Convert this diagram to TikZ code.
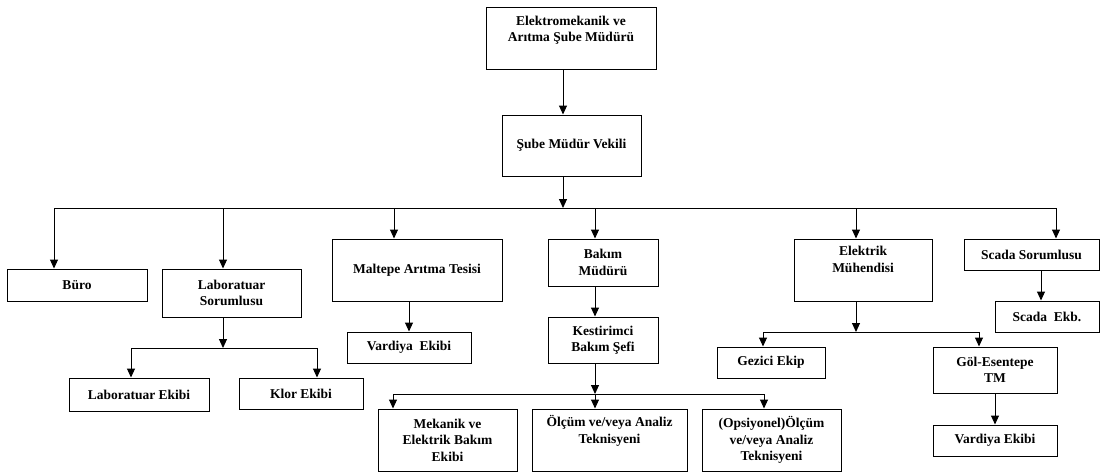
\documentclass[tikz,border=0pt]{standalone}
\usepackage{fontspec}
\setmainfont{Liberation Serif}
\usetikzlibrary{arrows.meta}

\begin{document}
\begin{tikzpicture}[x=1pt, y=-1pt,
        caja/.style={draw, line width=1pt, inner sep=2pt, align=center,
            font=\fontsize{13.5}{16.5}\selectfont\bfseries},
        flecha/.style={line width=1pt, -{Triangle[length=9pt, width=8pt]}},
        linea/.style={line width=1pt}]
    \useasboundingbox (0,0) rectangle (1100,472);

    % Cajas superiores
    \node[caja, minimum width=170pt, minimum height=62pt] (mudur) at (571,38)
        {Elektromekanik ve\\Arıtma Şube Müdürü\\[-3pt]\strut};
    \node[caja, minimum width=139pt, minimum height=61pt] (vekil) at (571.5,145.5)
        {Şube Müdür Vekili};

    % Primer nivel
    \node[caja, minimum width=140pt, minimum height=32pt] (buro) at (77,285) {Büro};
    \node[caja, minimum width=139pt, minimum height=48pt] (labsor) at (231.5,293)
        {Laboratuar\\Sorumlusu};
    \node[caja, minimum width=170pt, minimum height=62pt] (maltepe) at (417,270)
        {Maltepe Arıtma Tesisi};
    \node[caja, minimum width=110pt, minimum height=47pt] (bakim) at (603,262.5)
        {Bakım\\Müdürü};
    \node[caja, minimum width=138pt, minimum height=62pt] (elektrik) at (863,270)
        {Elektrik\\Mühendisi\\\strut};
    \node[caja, minimum width=135pt, minimum height=31pt] (scadasor) at (1031.5,254.5)
        {Scada Sorumlusu};

    % Segundo nivel
    \node[caja, minimum width=140pt, minimum height=33pt] (labekibi) at (139,394.5)
        {Laboratuar Ekibi};
    \node[caja, minimum width=124pt, minimum height=31pt] (klor) at (301,393.5)
        {Klor Ekibi};
    \node[caja, minimum width=124pt, minimum height=31pt] (vardiya) at (409,347.5)
        {Vardiya\ \ Ekibi};
    \node[caja, minimum width=110pt, minimum height=46pt] (kestirim) at (603,340)
        {Kestirimci\\Bakım Şefi};
    \node[caja, minimum width=108pt, minimum height=31pt] (gezici) at (771,362.5)
        {Gezici Ekip};
    \node[caja, minimum width=124pt, minimum height=46pt] (gol) at (995,370)
        {Göl-Esentepe\\TM};
    \node[caja, minimum width=104pt, minimum height=31pt] (scadaekb) at (1047,316.5)
        {Scada\ \ Ekb.};

    % Tercer nivel
    \node[caja, minimum width=139pt, minimum height=62pt] (mekanik) at (447.5,440)
        {Mekanik ve\\Elektrik Bakım\\Ekibi};
    \node[caja, minimum width=155pt, minimum height=62pt] (olcum) at (609.5,440)
        {Ölçüm ve/veya Analiz\\Teknisyeni\\\strut};
    \node[caja, minimum width=139pt, minimum height=62pt] (opsiyonel) at (771.5,440)
        {(Opsiyonel)Ölçüm\\ve/veya Analiz\\Teknisyeni};
    \node[caja, minimum width=124pt, minimum height=31pt] (vardiyagol) at (995,440.5)
        {Vardiya Ekibi};

    % Puntos de las barras
    \coordinate (c0) at (563,208);
    \coordinate (a1) at (54,208);
    \coordinate (a2) at (223,208);
    \coordinate (a3) at (394,208);
    \coordinate (a4) at (595,208);
    \coordinate (a5) at (856,208);
    \coordinate (a6) at (1056,208);
    \coordinate (b0) at (223,348);
    \coordinate (b1) at (131,348);
    \coordinate (b2) at (317,348);
    \coordinate (k0) at (595,394);
    \coordinate (k1) at (393,394);
    \coordinate (k2) at (764,394);
    \coordinate (e0) at (856,332);
    \coordinate (e1) at (763,332);
    \coordinate (e2) at (979,332);

    % Conexiones principales
    \draw[flecha] (mudur.south -| c0) -- (vekil.north -| c0);
    \draw[flecha] (vekil.south -| c0) -- (c0);
    \draw[linea] (a1) -- (a6);
    \draw[flecha] (a1) -- (a1 |- buro.north);
    \draw[flecha] (a2) -- (a2 |- labsor.north);
    \draw[flecha] (a3) -- (a3 |- maltepe.north);
    \draw[flecha] (a4) -- (a4 |- bakim.north);
    \draw[flecha] (a5) -- (a5 |- elektrik.north);
    \draw[flecha] (a6) -- (a6 |- scadasor.north);

    % Laboratuar
    \draw[flecha] (labsor.south -| b0) -- (b0);
    \draw[linea] (b1) -- (b2);
    \draw[flecha] (b1) -- (b1 |- labekibi.north);
    \draw[flecha] (b2) -- (b2 |- klor.north);

    % Maltepe y Bakim
    \draw[flecha] (maltepe.south -| vardiya.north) -- (vardiya.north);
    \draw[flecha] (bakim.south -| k0) -- (kestirim.north -| k0);
    \draw[flecha] (kestirim.south -| k0) -- (k0);
    \draw[linea] (k1) -- (k2);
    \draw[flecha] (k1) -- (k1 |- mekanik.north);
    \draw[flecha] (k0) -- (k0 |- olcum.north);
    \draw[flecha] (k2) -- (k2 |- opsiyonel.north);

    % Elektrik y Scada
    \draw[flecha] (elektrik.south -| e0) -- (e0);
    \draw[linea] (e1) -- (e2);
    \draw[flecha] (e1) -- (e1 |- gezici.north);
    \draw[flecha] (e2) -- (e2 |- gol.north);
    \draw[flecha] (gol.south -| vardiyagol.north) -- (vardiyagol.north);
    \draw[flecha] (scadasor.south -| 1041,0) -- (scadaekb.north -| 1041,0);
\end{tikzpicture}
\end{document}
